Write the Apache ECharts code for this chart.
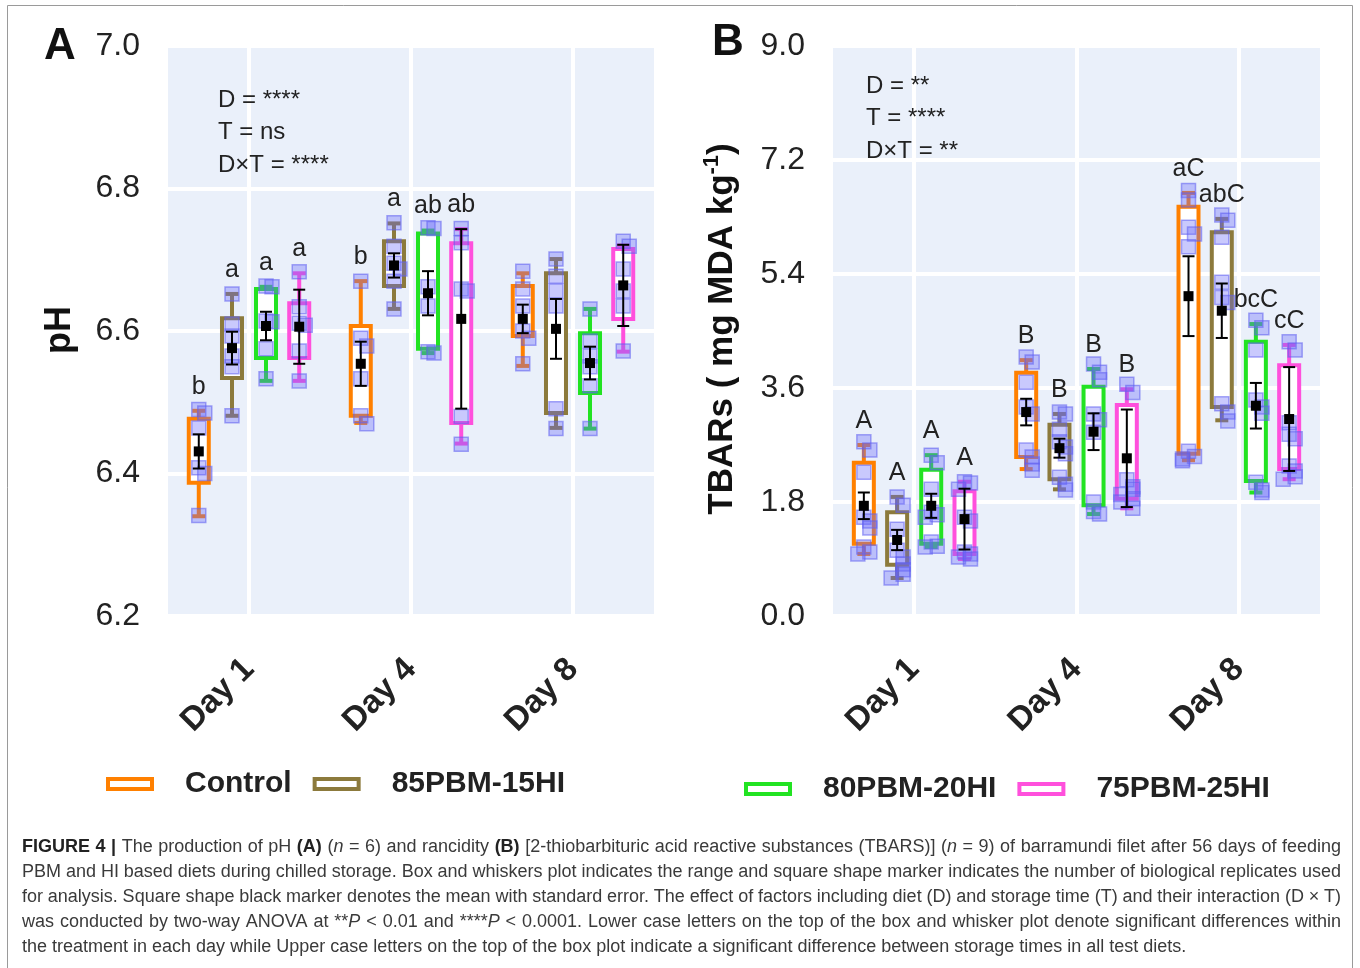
<!DOCTYPE html>
<html>
<head>
<meta charset="utf-8">
<title>Figure 4</title>
<script src="https://cdn.jsdelivr.net/npm/echarts@6/dist/echarts.min.js"></script>
<style>
  html, body { margin: 0; padding: 0; background: #fff; }
  #main { width: 1360px; height: 968px; }
</style>
</head>
<body>
<div id="main"></div>
<script>
const days = ["Day 1", "Day 4", "Day 8"];
const diets = ["Control", "85PBM-15HI", "80PBM-20HI", "75PBM-25HI"];
const dietColors = ["#ff8000", "#8c7a3c", "#22e322", "#ff50dc"];

// panel A: pH, rows = diets, columns = days
const phWhiskerLow = [[6.340, 6.471, 6.551], [6.481, 6.631, 6.464], [6.530, 6.569, 6.463], [6.530, 6.442, 6.571]];
const phBoxLow = [[6.387, 6.481, 6.593], [6.534, 6.663, 6.485], [6.562, 6.575, 6.513], [6.562, 6.471, 6.617]];
const phBoxHigh = [[6.477, 6.607, 6.663], [6.618, 6.726, 6.681], [6.659, 6.737, 6.597], [6.639, 6.723, 6.715]];
const phWhiskerHigh = [[6.488, 6.670, 6.681], [6.652, 6.751, 6.701], [6.662, 6.741, 6.631], [6.681, 6.743, 6.720]];
const phMean = [[6.431, 6.554, 6.617], [6.576, 6.692, 6.603], [6.607, 6.653, 6.555], [6.606, 6.617, 6.664]];
const phSE = [[0.024, 0.031, 0.020], [0.023, 0.017, 0.042], [0.020, 0.031, 0.023], [0.052, 0.126, 0.057]];
const phPoints = [
  [[6.490, 6.485, 6.464, 6.408, 6.400, 6.341], [6.670, 6.590, 6.579, 6.533, 6.481, 6.470], [6.684, 6.659, 6.635, 6.600, 6.590, 6.554]],
  [[6.652, 6.610, 6.593, 6.565, 6.550, 6.481], [6.752, 6.719, 6.695, 6.687, 6.670, 6.631], [6.701, 6.677, 6.656, 6.635, 6.491, 6.463]],
  [[6.663, 6.662, 6.614, 6.613, 6.575, 6.533], [6.745, 6.744, 6.662, 6.635, 6.571, 6.569], [6.631, 6.586, 6.565, 6.550, 6.523, 6.463]],
  [[6.683, 6.634, 6.611, 6.608, 6.572, 6.530], [6.744, 6.724, 6.659, 6.656, 6.480, 6.441], [6.726, 6.719, 6.687, 6.656, 6.635, 6.572]]
];
const phLetters = [["b", "b", ""], ["a", "a", ""], ["a", "ab", ""], ["a", "ab", ""]];
const phTicks = { min: 6.2, max: 7.0, step: 0.2 };

// panel B: TBARs (mg MDA/kg)
const tbWhiskerLow = [[0.98, 2.32, 2.46], [0.60, 2.00, 3.09], [1.09, 1.61, 1.95], [0.90, 1.70, 2.16]];
const tbBoxLow = [[1.14, 2.51, 2.56], [0.81, 2.16, 3.30], [1.14, 1.75, 2.13], [0.98, 1.85, 2.32]];
const tbBoxHigh = [[2.42, 3.84, 6.46], [1.64, 3.02, 6.06], [2.31, 3.62, 4.33], [1.97, 3.33, 3.96]];
const tbWhiskerHigh = [[2.70, 4.04, 6.68], [1.88, 3.19, 6.27], [2.54, 3.90, 4.61], [2.12, 3.58, 4.28]];
const tbMean = [[1.74, 3.22, 5.05], [1.20, 2.65, 4.82], [1.74, 2.91, 3.32], [1.53, 2.49, 3.11]];
const tbSE = [[0.21, 0.21, 0.63], [0.16, 0.15, 0.43], [0.19, 0.29, 0.36], [0.48, 0.77, 0.82]];
const tbPoints = [
  [[2.75, 2.62, 2.27, 1.56, 1.50, 1.39, 1.09, 1.01, 0.98], [4.09, 4.01, 3.69, 3.30, 3.19, 2.62, 2.51, 2.40, 2.30], [6.72, 6.57, 6.14, 6.03, 5.83, 2.60, 2.52, 2.48, 2.45]],
  [[1.88, 1.75, 1.37, 1.04, 0.93, 0.82, 0.73, 0.66, 0.60], [3.22, 3.19, 2.95, 2.75, 2.67, 2.56, 2.19, 2.08, 1.99], [6.33, 6.25, 5.98, 5.27, 5.03, 4.95, 3.35, 3.22, 3.08]],
  [[2.54, 2.42, 2.00, 1.64, 1.60, 1.56, 1.17, 1.10, 1.09], [3.98, 3.85, 3.73, 3.19, 3.10, 2.90, 1.80, 1.65, 1.61], [4.67, 4.55, 4.20, 3.41, 3.30, 3.20, 2.11, 1.99, 1.95]],
  [[2.12, 2.10, 2.00, 1.56, 1.50, 1.01, 0.98, 0.93, 0.90], [3.66, 3.53, 2.15, 2.04, 2.00, 1.92, 1.85, 1.80, 1.70], [4.33, 4.20, 3.05, 2.87, 2.80, 2.37, 2.29, 2.20, 2.16]]
];
const tbLetters = [["A", "B", "aC"], ["A", "B", "abC"], ["A", "B", "bcC"], ["A", "B", "cC"]];
const tbTicks = { min: 0, max: 9, step: 1.8 };

const phStats = ["D = ****", "T = ns", "D×T = ****"];
const tbStats = ["D = **", "T = ****", "D×T = **"];

const captionLines = [
  [["FIGURE 4 |", "b"], [" The production of pH ", ""], ["(A)", "b"], [" (", ""], ["n", "i"], [" = 6) and rancidity ", ""], ["(B)", "b"],
   [" [2-thiobarbituric acid reactive substances (TBARS)] (", ""], ["n", "i"], [" = 9) of barramundi filet after 56 days of feeding", ""]],
  [["PBM and HI based diets during chilled storage. Box and whiskers plot indicates the range and square shape marker indicates the number of biological replicates used", ""]],
  [["for analysis. Square shape black marker denotes the mean with standard error. The effect of factors including diet (D) and storage time (T) and their interaction (D × T)", ""]],
  [["was conducted by two-way ANOVA at **", ""], ["P", "i"], [" < 0.01 and ****", ""], ["P", "i"],
   [" < 0.0001. Lower case letters on the top of the box and whisker plot denote significant differences within", ""]],
  [["the treatment in each day while Upper case letters on the top of the box plot indicate a significant difference between storage times in all test diets.", ""]]
];

const panels = [
  { wl: phWhiskerLow, bl: phBoxLow, bh: phBoxHigh, wh: phWhiskerHigh, mean: phMean, se: phSE, pts: phPoints, letters: phLetters },
  { wl: tbWhiskerLow, bl: tbBoxLow, bh: tbBoxHigh, wh: tbWhiskerHigh, mean: tbMean, se: tbSE, pts: tbPoints, letters: tbLetters }
];

const FONT = '"Liberation Sans", Arial, Helvetica, sans-serif';
const dietOffsets = [-0.31, -0.105, 0.105, 0.31];
const ink = "#222";

function makeRenderItem(panel, d) {
  return function (params, api) {
    const i = params.dataIndex;
    const band = api.size([1, 0])[0];
    const cx = api.coord([i, 0])[0] + band * dietOffsets[d];
    const py = v => api.coord([i, v])[1];
    const color = dietColors[d];
    const wl = py(panel.wl[d][i]), bl = py(panel.bl[d][i]);
    const bh = py(panel.bh[d][i]), wh = py(panel.wh[d][i]);
    const m = panel.mean[d][i], s = panel.se[d][i];
    const children = [];
    const line = (x1, y1, x2, y2, c, w) => ({
      type: "line", shape: { x1, y1, x2, y2 }, style: { stroke: c, lineWidth: w }
    });
    // whiskers + caps
    children.push(line(cx, wh, cx, bh, color, 4));
    children.push(line(cx, bl, cx, wl, color, 4));
    children.push(line(cx - 6.5, wh, cx + 6.5, wh, color, 4));
    children.push(line(cx - 6.5, wl, cx + 6.5, wl, color, 4));
    // box
    children.push({
      type: "rect", shape: { x: cx - 10, y: bh, width: 20, height: bl - bh },
      style: { fill: "#fff", stroke: color, lineWidth: 4 }
    });
    // replicates
    const placed = [];
    panel.pts[d][i].forEach(v => {
      const y = py(v);
      const near = placed.filter(p => Math.abs(p - y) < 9).length;
      placed.push(y);
      const dx = near === 0 ? 0 : (near % 2 ? 6 : -6);
      children.push({
        type: "rect", shape: { x: cx + dx - 7, y: y - 7, width: 14, height: 14 },
        style: { fill: "rgba(105,105,250,0.36)", stroke: "rgba(95,95,240,0.55)", lineWidth: 1.5 }
      });
    });
    // mean +- SE
    const yt = py(m + s), yb = py(m - s), ym = py(m);
    children.push(line(cx, yt, cx, yb, "#000", 2));
    children.push(line(cx - 6, yt, cx + 6, yt, "#000", 2));
    children.push(line(cx - 6, yb, cx + 6, yb, "#000", 2));
    children.push({ type: "rect", shape: { x: cx - 5, y: ym - 5, width: 10, height: 10 }, style: { fill: "#000" } });
    const letter = panel.letters[d][i];
    if (letter) {
      children.push({
        type: "text", x: cx, y: wh - 24,
        style: { text: letter, fontSize: 25, fontFamily: FONT, fill: ink, align: "center", verticalAlign: "middle" }
      });
    }
    return { type: "group", children };
  };
}

function captionGraphics() {
  const capLeft = 22, capRight = 1341, capTop = 847, capGap = 25, capSize = 18;
  const ctx = document.createElement("canvas").getContext("2d");
  const fontOf = st => (st === "i" ? "italic " : "") + (st === "b" ? "bold " : "") + capSize + "px " + FONT;
  const out = [];
  captionLines.forEach((segs, li) => {
    const words = [[]];
    segs.forEach(([txt, st]) => {
      txt.split(/( )/).forEach(part => {
        if (part === " ") {
          if (words[words.length - 1].length) words.push([]);
        } else if (part) {
          words[words.length - 1].push([part, st]);
        }
      });
    });
    if (!words[words.length - 1].length) words.pop();
    const wordW = words.map(w => w.reduce((acc, [t, st]) => {
      ctx.font = fontOf(st);
      return acc + ctx.measureText(t).width;
    }, 0));
    const total = wordW.reduce((a, b) => a + b, 0);
    ctx.font = fontOf("");
    const gap = li < captionLines.length - 1
      ? (capRight - capLeft - total) / (words.length - 1)
      : ctx.measureText(" ").width;
    let x = capLeft;
    const y = capTop + li * capGap;
    words.forEach(w => {
      w.forEach(([t, st]) => {
        ctx.font = fontOf(st);
        out.push({
          type: "text", x, y, z: 100,
          style: {
            text: t, fontSize: capSize, fontFamily: FONT,
            fontWeight: st === "b" ? "bold" : "normal", fontStyle: st === "i" ? "italic" : "normal",
            fill: st === "b" ? "#222" : "#3a3a3a", align: "left", verticalAlign: "middle"
          }
        });
        x += ctx.measureText(t).width;
      });
      x += gap;
    });
  });
  return out;
}

const chartDom = document.getElementById("main");
const myChart = echarts.init(chartDom, null, { renderer: "canvas" });

const gridBase = { show: true, backgroundColor: "#eaf0fa", borderWidth: 0, top: 46, height: 570 };
const xAxisBase = {
  type: "category", data: days, boundaryGap: true,
  axisLine: { show: false }, axisTick: { show: false },
  axisLabel: { rotate: 45, margin: 48, fontSize: 33, fontWeight: "bold", color: ink, fontFamily: FONT },
  splitLine: { show: true, alignWithLabel: true, lineStyle: { color: "#fff", width: 4 } }
};
const yAxisBase = t => ({
  type: "value", min: t.min, max: t.max, interval: t.step,
  axisLine: { show: false }, axisTick: { show: false },
  axisLabel: { fontSize: 32, color: ink, margin: 28, fontFamily: FONT, formatter: v => v.toFixed(1) },
  splitLine: { show: true, lineStyle: { color: "#fff", width: 4 } }
});

const series = [];
panels.forEach((panel, p) => {
  diets.forEach((name, d) => {
    series.push({
      type: "custom", name, xAxisIndex: p, yAxisIndex: p,
      itemStyle: { color: dietColors[d] },
      renderItem: makeRenderItem(panel, d),
      data: days.map((day, i) => [i, panel.mean[d][i]]),
      encode: { x: 0, y: 1 },
      silent: true
    });
  });
});

const legendItem = d => ({
  name: diets[d],
  itemStyle: { color: "rgba(0,0,0,0)", borderColor: dietColors[d], borderWidth: 4 }
});
const legendBase = {
  icon: "rect", itemWidth: 44, itemHeight: 10, itemGap: 21, orient: "horizontal",
  selectedMode: false, padding: 0,
  textStyle: { fontSize: 30, fontWeight: "bold", color: ink, fontFamily: FONT, padding: [0, 0, 0, 28] }
};

const statText = (lines, x, y0) => lines.map((t, k) => ({
  type: "text", x, y: y0 + k * 32.5, z: 100,
  style: { text: t, fontSize: 24, fontFamily: FONT, fill: ink, align: "left", verticalAlign: "middle" }
}));

const option = {
  backgroundColor: "#fff",
  animation: false,
  grid: [
    Object.assign({ left: 168, width: 486 }, gridBase),
    Object.assign({ left: 833, width: 487 }, gridBase)
  ],
  xAxis: [Object.assign({ gridIndex: 0 }, xAxisBase), Object.assign({ gridIndex: 1 }, xAxisBase)],
  yAxis: [Object.assign({ gridIndex: 0 }, yAxisBase(phTicks)), Object.assign({ gridIndex: 1 }, yAxisBase(tbTicks))],
  legend: [
    Object.assign({ left: 106, top: 769, data: [legendItem(0), legendItem(1)] }, legendBase),
    Object.assign({ left: 744, top: 774, data: [legendItem(2), legendItem(3)] }, legendBase)
  ],
  graphic: [
    { type: "rect", shape: { x: 7.5, y: 5.5, width: 1345, height: 1000 }, style: { fill: "none", stroke: "#9a9a9a", lineWidth: 1 }, silent: true },
    { type: "text", x: 60, y: 47, z: 100, style: { text: "A", fontSize: 44, fontWeight: "bold", fontFamily: FONT, fill: "#111", align: "center", verticalAlign: "middle" } },
    { type: "text", x: 728, y: 43, z: 100, style: { text: "B", fontSize: 44, fontWeight: "bold", fontFamily: FONT, fill: "#111", align: "center", verticalAlign: "middle" } },
    { type: "text", x: 60, y: 330, z: 100, rotation: Math.PI / 2,
      style: { text: "pH", fontSize: 36, fontWeight: "bold", fontFamily: FONT, fill: "#111", align: "center", verticalAlign: "middle" } },
    { type: "text", x: 722, y: 329, z: 100, rotation: Math.PI / 2,
      style: {
        text: "{m|TBARs ( mg MDA kg}{s|-1}{m|)}", align: "center", verticalAlign: "middle",
        rich: {
          m: { fontSize: 35, fontWeight: "bold", fontFamily: FONT, fill: "#111", lineHeight: 42 },
          s: { fontSize: 22, fontWeight: "bold", fontFamily: FONT, fill: "#111", lineHeight: 20, verticalAlign: "top" }
        }
      } }
  ].concat(statText(phStats, 218, 100), statText(tbStats, 866, 86), captionGraphics()),
  series
};

option && myChart.setOption(option);
</script>
</body>
</html>
